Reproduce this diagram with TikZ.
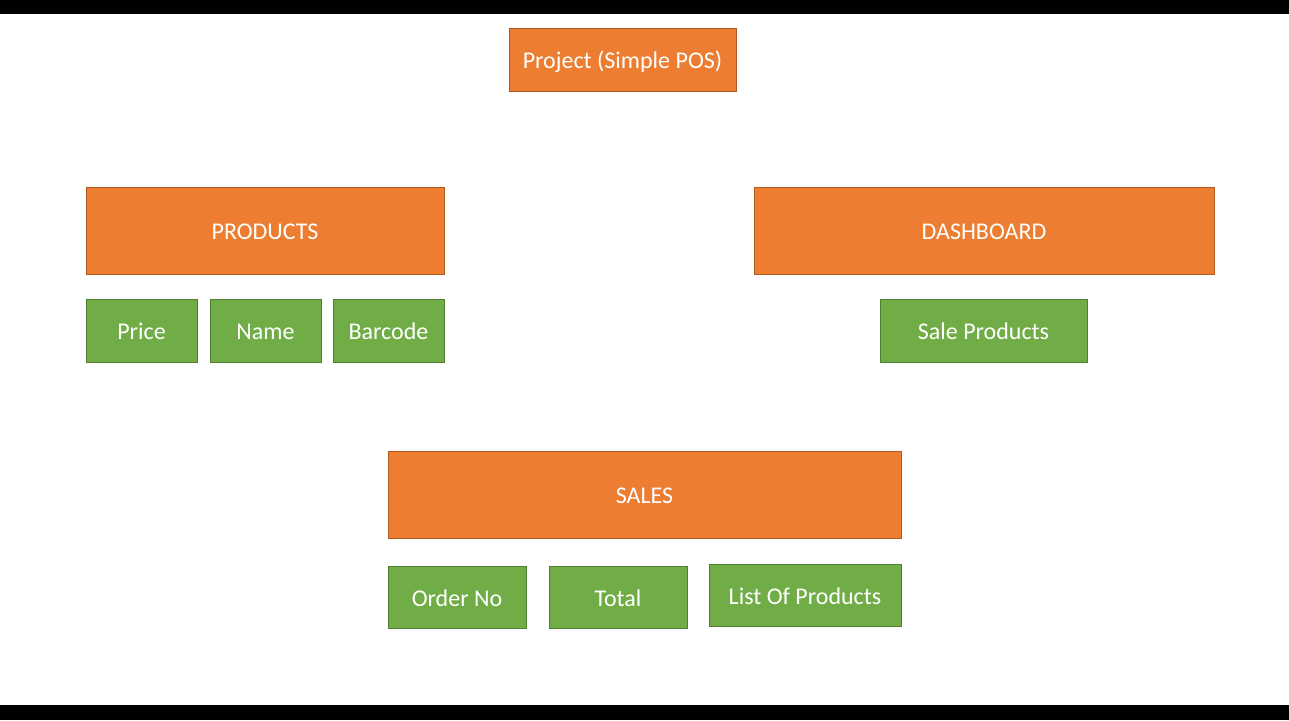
\documentclass[tikz,border=0pt]{standalone}
\usepackage{fontspec}
\setmainfont{Carlito}
\usetikzlibrary{positioning}
\definecolor{boxorange}{HTML}{ED7D31}
\definecolor{edgeorange}{HTML}{AE5A21}
\definecolor{boxgreen}{HTML}{70AD47}
\definecolor{edgegreen}{HTML}{507E32}
\tikzset{
  topic/.style={rectangle,fill=boxorange,draw=edgeorange,line width=1pt,
    text=white,font=\fontsize{24}{28}\selectfont,inner sep=0pt,
    text height=18.5pt,text depth=0pt},
  field/.style={rectangle,fill=boxgreen,draw=edgegreen,line width=1pt,
    text=white,font=\fontsize{24}{28}\selectfont,inner sep=0pt,
    text height=18.5pt,text depth=0pt}
}
\begin{document}
\begin{tikzpicture}[x=1pt,y=-1pt]
   \fill[black] (0,0) rectangle (1289,720);
   \fill[white] (0,14) rectangle (1289,705);
   \useasboundingbox (0,0) rectangle (1289,720);

          \node[topic,minimum width=227pt,minimum height=63pt] (Project) at(622.5,59.5) {Project (Simple POS)};

          \node[topic,minimum width=358pt,minimum height=87pt] (Products) at(265,230.5) {PRODUCTS};
          \node[topic,minimum width=460pt,minimum height=87pt] (Dashboard) at(984,230.5) {DASHBOARD};
          \node[topic,minimum width=513pt,minimum height=87pt] (Sales) at(644.5,494.5) {SALES};

   \foreach \name/\x/\txt in {Price/141.5/Price,Name/265.5/Name,Barcode/388.5/Barcode}
             {
               \node[field,minimum width=111pt,minimum height=63pt] (\name) at(\x,330.5) {\txt};
             }
          \node[field,minimum width=207pt,minimum height=63pt] (SaleProducts) at(983.5,330.5) {Sale Products};

          \node[field,minimum width=138pt,minimum height=62pt] (OrderNo) at(457,597) {Order No};
          \node[field,minimum width=138pt,minimum height=62pt] (Total) at(618,597) {Total};
          \node[field,minimum width=192pt,minimum height=62pt] (ListProducts) at(805,595) {List Of Products};
        \end{tikzpicture}
\end{document}
